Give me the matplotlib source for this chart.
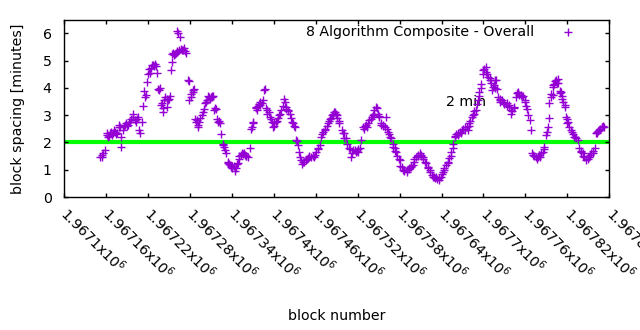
import matplotlib
matplotlib.use("Agg")
import matplotlib.pyplot as plt
from matplotlib.ticker import FixedLocator, FixedFormatter

plt.rcParams['font.family'] = ['DejaVu Sans']
plt.rcParams['mathtext.fontset'] = 'dejavusans'

series_label = "8 Algorithm Composite - Overall"
line_label = "2 min"
x_label = "block number"
y_label = "block spacing [minutes]"

blocks = [
    1967151, 1967154, 1967155, 1967156, 1967159, 1967161, 1967162, 1967163, 1967164, 1967166,
    1967167, 1967169, 1967170, 1967171, 1967173, 1967174, 1967176, 1967178, 1967179, 1967180,
    1967181, 1967182, 1967185, 1967186, 1967187, 1967189, 1967190, 1967192, 1967193, 1967194,
    1967196, 1967198, 1967199, 1967201, 1967203, 1967204, 1967206, 1967207, 1967209, 1967211,
    1967213, 1967215, 1967216, 1967217, 1967219, 1967220, 1967221, 1967223, 1967224, 1967226,
    1967228, 1967229, 1967230, 1967231, 1967233, 1967235, 1967236, 1967237, 1967239, 1967240,
    1967241, 1967242, 1967243, 1967244, 1967247, 1967248, 1967249, 1967250, 1967251, 1967253,
    1967254, 1967255, 1967256, 1967257, 1967259, 1967260, 1967261, 1967262, 1967262, 1967263,
    1967264, 1967266, 1967267, 1967269, 1967270, 1967271, 1967273, 1967275, 1967278, 1967279,
    1967279, 1967281, 1967282, 1967284, 1967285, 1967286, 1967287, 1967289, 1967290, 1967291,
    1967292, 1967293, 1967294, 1967297, 1967299, 1967300, 1967301, 1967303, 1967304, 1967306,
    1967307, 1967309, 1967310, 1967311, 1967312, 1967313, 1967314, 1967316, 1967318, 1967319,
    1967321, 1967322, 1967323, 1967325, 1967327, 1967328, 1967329, 1967330, 1967332, 1967334,
    1967335, 1967336, 1967337, 1967339, 1967340, 1967341, 1967343, 1967344, 1967346, 1967347,
    1967349, 1967350, 1967351, 1967353, 1967354, 1967356, 1967357, 1967359, 1967360, 1967361,
    1967363, 1967366, 1967368, 1967369, 1967370, 1967371, 1967374, 1967375, 1967376, 1967378,
    1967379, 1967380, 1967381, 1967383, 1967385, 1967386, 1967387, 1967389, 1967390, 1967391,
    1967393, 1967394, 1967396, 1967397, 1967399, 1967400, 1967401, 1967403, 1967404, 1967406,
    1967407, 1967409, 1967411, 1967413, 1967414, 1967416, 1967417, 1967418, 1967420, 1967421,
    1967423, 1967424, 1967426, 1967427, 1967429, 1967430, 1967432, 1967434, 1967435, 1967436,
    1967437, 1967439, 1967441, 1967442, 1967444, 1967446, 1967447, 1967449, 1967450, 1967451,
    1967454, 1967456, 1967457, 1967459, 1967461, 1967463, 1967464, 1967466, 1967468, 1967469,
    1967470, 1967473, 1967474, 1967476, 1967478, 1967479, 1967480, 1967482, 1967484, 1967485,
    1967486, 1967487, 1967489, 1967490, 1967491, 1967493, 1967494, 1967497, 1967499, 1967500,
    1967501, 1967504, 1967505, 1967507, 1967509, 1967511, 1967512, 1967513, 1967516, 1967517,
    1967519, 1967520, 1967521, 1967523, 1967525, 1967528, 1967529, 1967530, 1967532, 1967534,
    1967535, 1967537, 1967539, 1967540, 1967542, 1967543, 1967544, 1967547, 1967548, 1967549,
    1967550, 1967551, 1967553, 1967554, 1967556, 1967557, 1967559, 1967561, 1967562, 1967563,
    1967565, 1967566, 1967568, 1967570, 1967571, 1967573, 1967574, 1967575, 1967577, 1967579,
    1967580, 1967581, 1967583, 1967585, 1967586, 1967587, 1967590, 1967591, 1967593, 1967594,
    1967596, 1967597, 1967599, 1967600, 1967601, 1967604, 1967606, 1967607, 1967609, 1967610,
    1967611, 1967613, 1967614, 1967616, 1967618, 1967620, 1967621, 1967623, 1967624, 1967626,
    1967628, 1967629, 1967630, 1967632, 1967634, 1967636, 1967637, 1967639, 1967640, 1967642,
    1967643, 1967644, 1967647, 1967649, 1967650, 1967651, 1967653, 1967654, 1967656, 1967657,
    1967659, 1967660, 1967661, 1967663, 1967664, 1967666, 1967668, 1967670, 1967671, 1967673,
    1967674, 1967676, 1967678, 1967679, 1967680, 1967681, 1967683, 1967685, 1967686, 1967687,
    1967690, 1967691, 1967692, 1967693, 1967694, 1967696, 1967697, 1967699, 1967700, 1967701,
    1967703, 1967704, 1967705, 1967707, 1967709, 1967710, 1967711, 1967712, 1967714, 1967715,
    1967716, 1967717, 1967718, 1967720, 1967721, 1967723, 1967723, 1967724, 1967726, 1967728,
    1967729, 1967730, 1967733, 1967734, 1967736, 1967737, 1967739, 1967740, 1967741, 1967743,
    1967744, 1967747, 1967748, 1967749, 1967750, 1967751, 1967754, 1967755, 1967756, 1967759,
    1967760, 1967761, 1967763, 1967764, 1967766, 1967768, 1967770, 1967771, 1967773, 1967775,
    1967776, 1967778, 1967779, 1967780, 1967781, 1967783, 1967785, 1967786, 1967787, 1967790,
    1967791, 1967792, 1967794, 1967794, 1967796, 1967797, 1967799, 1967800, 1967800, 1967801,
    1967803, 1967804, 1967805, 1967806, 1967807, 1967809, 1967810, 1967811, 1967812, 1967813,
    1967814, 1967816, 1967817, 1967818, 1967819, 1967820, 1967821, 1967823, 1967825, 1967826,
    1967828, 1967830, 1967831, 1967833, 1967835, 1967837, 1967839, 1967840, 1967842, 1967843,
    1967844, 1967847, 1967849, 1967850, 1967851, 1967853, 1967854, 1967856, 1967857, 1967859,
    1967861, 1967862, 1967863, 1967864, 1967866, 1967867, 1967869, 1967870, 1967871, 1967873,
]

spacing = [
    1.47, 1.47, 1.55, 1.60, 1.72, 2.27, 2.33, 2.20, 2.25, 2.33,
    2.40, 2.28, 2.33, 2.45, 2.39, 2.30, 2.35, 2.63, 2.55, 2.57,
    2.20, 1.84, 2.45, 2.60, 2.63, 2.70, 2.60, 2.63, 2.75, 2.76,
    2.85, 3.06, 2.95, 2.82, 2.75, 2.85, 2.94, 2.45, 2.33, 2.75,
    3.33, 3.89, 3.67, 3.75, 4.22, 4.53, 4.70, 4.55, 4.75, 4.85,
    4.86, 4.80, 4.88, 4.82, 4.55, 3.95, 3.94, 4.00, 3.37, 3.45,
    3.12, 3.25, 3.55, 3.65, 3.61, 3.30, 3.55, 3.61, 3.70, 4.65,
    4.95, 5.26, 5.28, 5.22, 5.26, 5.30, 5.32, 5.35, 6.10, 6.00,
    5.40, 5.87, 5.42, 5.38, 5.38, 5.45, 5.35, 5.30, 4.30, 4.25,
    3.55, 3.65, 3.79, 3.85, 3.91, 3.98, 2.85, 2.75, 2.82, 2.65,
    2.57, 2.75, 2.90, 3.00, 3.10, 3.24, 3.45, 3.50, 3.55, 3.70,
    3.67, 3.60, 3.65, 3.72, 3.68, 3.70, 3.20, 3.25, 3.24, 2.85,
    2.75, 2.80, 2.70, 2.30, 1.95, 1.90, 1.85, 1.72, 1.60, 1.30,
    1.25, 1.20, 1.18, 1.10, 1.15, 1.05, 1.12, 0.95, 1.05, 1.20,
    1.25, 1.40, 1.50, 1.55, 1.60, 1.58, 1.62, 1.55, 1.50, 1.52,
    1.45, 1.78, 2.51, 2.55, 2.76, 2.70, 3.25, 3.30, 3.20, 3.35,
    3.40, 3.37, 3.50, 3.45, 3.55, 3.91, 3.95, 3.25, 3.18, 3.05,
    3.10, 2.94, 2.85, 2.75, 2.57, 2.62, 2.70, 2.75, 2.80, 2.88,
    3.00, 3.05, 3.18, 3.35, 3.60, 3.49, 3.30, 3.24, 3.20, 3.15,
    3.06, 2.90, 2.75, 2.70, 2.62, 2.57, 2.09, 2.05, 1.90, 1.66,
    1.45, 1.35, 1.20, 1.30, 1.29, 1.35, 1.40, 1.42, 1.50, 1.45,
    1.47, 1.52, 1.45, 1.54, 1.65, 1.78, 1.75, 1.90, 2.21, 2.30,
    2.40, 2.45, 2.50, 2.60, 2.70, 2.78, 2.85, 2.88, 3.00, 3.05,
    3.10, 3.12, 3.05, 3.00, 2.90, 2.80, 2.70, 2.45, 2.35, 2.15,
    2.33, 2.15, 1.96, 1.78, 1.75, 1.47, 1.60, 1.72, 1.72, 1.65,
    1.70, 1.66, 1.75, 1.80, 2.09, 2.57, 2.50, 2.60, 2.63, 2.55,
    2.70, 2.82, 2.85, 2.95, 3.00, 3.05, 3.20, 3.30, 3.25, 3.05,
    2.98, 2.94, 2.70, 2.65, 2.63, 2.60, 2.57, 2.94, 2.50, 2.39,
    2.30, 2.20, 2.15, 1.95, 1.85, 1.78, 1.70, 1.66, 1.50, 1.40,
    1.35, 1.15, 1.10, 0.99, 0.95, 1.00, 0.93, 1.00, 1.02, 1.05,
    1.10, 1.15, 1.17, 1.30, 1.40, 1.47, 1.55, 1.50, 1.60, 1.55,
    1.50, 1.47, 1.40, 1.30, 1.23, 1.10, 1.05, 0.99, 0.90, 0.80,
    0.74, 0.75, 0.70, 0.74, 0.65, 0.70, 0.62, 0.75, 0.85, 0.93,
    1.00, 1.05, 1.17, 1.25, 1.30, 1.42, 1.50, 1.65, 1.78, 1.95,
    2.21, 2.25, 2.30, 2.27, 2.35, 2.40, 2.33, 2.45, 2.50, 2.57,
    2.45, 2.55, 2.45, 2.60, 2.70, 2.80, 2.95, 3.00, 3.05, 3.15,
    3.18, 3.40, 3.55, 3.70, 3.85, 4.00, 4.16, 4.50, 4.65, 4.70,
    4.77, 4.60, 4.53, 4.40, 4.35, 4.28, 4.20, 3.91, 4.05, 4.10,
    4.00, 4.30, 4.28, 3.95, 3.67, 3.60, 3.55, 3.50, 3.55, 3.49,
    3.40, 3.45, 3.45, 3.35, 3.30, 3.37, 3.20, 3.06, 3.15, 3.25,
    3.30, 3.67, 3.80, 3.85, 3.80, 3.75, 3.73, 3.65, 3.70, 3.55,
    3.50, 3.35, 3.24, 3.00, 2.82, 2.45, 1.60, 1.55, 1.50, 1.47,
    1.40, 1.45, 1.55, 1.54, 1.45, 1.60, 1.66, 1.75, 1.84, 2.27,
    2.40, 2.57, 2.88, 3.43, 3.65, 3.79, 3.75, 4.05, 4.10, 4.16,
    4.25, 4.28, 4.20, 4.34, 4.20, 3.90, 3.80, 3.85, 3.70, 3.61,
    3.50, 3.37, 3.30, 2.94, 2.85, 2.70, 2.75, 2.55, 2.45, 2.40,
    2.30, 2.21, 2.20, 2.15, 2.09, 1.78, 1.70, 1.65, 1.60, 1.50,
    1.45, 1.35, 1.40, 1.45, 1.47, 1.55, 1.60, 1.60, 1.70, 1.78,
    2.33, 2.40, 2.35, 2.42, 2.45, 2.50, 2.55, 2.57, 2.60, 2.57,
]

reference_minutes = 2
x_ticks = [1967100, 1967160, 1967220, 1967280, 1967340, 1967400, 1967460,
           1967520, 1967580, 1967640, 1967700, 1967760, 1967820, 1967880]
x_tick_mantissas = ["1.9671", "1.96716", "1.96722", "1.96728", "1.96734", "1.9674",
                    "1.96746", "1.96752", "1.96758", "1.96764", "1.9677", "1.96776",
                    "1.96782", "1.96788"]
y_ticks = [0, 1, 2, 3, 4, 5, 6]

FS = 10.2
purple = '#9400d3'

fig = plt.figure(figsize=(6.4, 3.3), dpi=100)
ax = fig.add_axes([0.1, 0.403, 0.852, 0.537])

ax.axhline(reference_minutes, color='#00ff00', lw=3.0, zorder=1)
ax.plot(blocks, spacing, linestyle='none', marker='+', color=purple,
        markersize=6, markeredgewidth=1.0, zorder=3)

ax.set_xlim(x_ticks[0], x_ticks[-1])
ax.set_ylim(0, 6.5)
ax.xaxis.set_major_locator(FixedLocator(x_ticks))
ax.xaxis.set_major_formatter(FixedFormatter([m + "x10$^{6}$" for m in x_tick_mantissas]))
ax.set_yticks(y_ticks)
ax.tick_params(direction='in', top=True, right=True, length=3, width=1,
               labelsize=FS, colors='black')
ax.tick_params(axis='x', pad=10)
ax.tick_params(axis='y', pad=9)
for lbl in ax.get_xticklabels():
    lbl.set_rotation(-45)
    lbl.set_ha('left')
    lbl.set_va('center')
    lbl.set_rotation_mode('anchor')
for s in ax.spines.values():
    s.set_linewidth(1.0)

ax.set_xlabel(x_label, fontsize=FS)
ax.xaxis.set_label_coords(0.5, -0.63)
ax.set_ylabel(y_label, fontsize=FS)
ax.yaxis.set_label_coords(-0.072, 0.5)

ax.text(1967646, 3.48, line_label, fontsize=FS, ha='left', va='center', zorder=2)

# legend
ax.text(0.862, 0.93, series_label, transform=ax.transAxes, fontsize=FS,
        ha='right', va='center')
ax.plot([0.924], [0.93], transform=ax.transAxes, linestyle='none', marker='+',
        color=purple, markersize=6, markeredgewidth=1.0, clip_on=False)

fig.savefig("out.png", dpi=100)
